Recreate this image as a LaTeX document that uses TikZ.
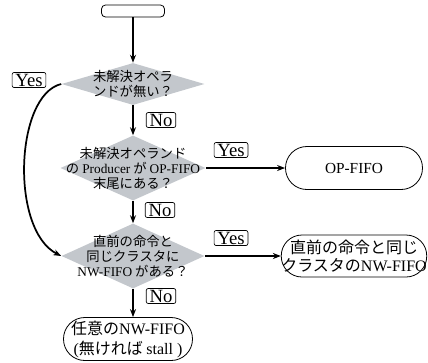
\documentclass[tikz,border=0pt]{standalone}
\usepackage{fontspec}
\setmainfont{Liberation Serif}
\newfontfamily\jp{Noto Sans CJK JP}
\usetikzlibrary{shapes.geometric,arrows.meta,positioning}
\definecolor{DiaGray}{HTML}{C3C7CC}
\tikzset{
  % terminal box (round ends)
  TB/.style={rectangle,draw,line width=0.6pt,align=center,inner sep=0pt,
             font=\jp\fontsize{12}{14}\selectfont},
  % decision diamond, text put in as a centre label
  DM/.style={diamond,fill=DiaGray,inner sep=0pt},
  DT/.style={align=center,inner sep=0pt,font=\jp\fontsize{10}{11.2}\selectfont},
  % Yes / No tags
  LB/.style={rectangle,rounded corners=1.5pt,draw,line width=0.5pt,
             inner xsep=2.5pt,inner ysep=1pt,font=\fontsize{14}{15}\selectfont},
  % arrow
  arr/.style={-{Stealth[length=6pt,width=4.5pt]},line width=1.3pt}
}
\begin{document}
\begin{tikzpicture}[x=0.75pt,y=-0.75pt]
  \useasboundingbox (0,0) rectangle (428,362);

  \node[TB,rounded corners=3pt,minimum width=47.25pt,minimum height=9pt] (start) at (133,11) {};
  \node[DM,minimum width=107.25pt,minimum height=31.5pt,
        label={[DT]center:未解決オペラ\\ンドが無い？}] (q1) at (133,84) {};
  \node[DM,minimum width=108.75pt,minimum height=48.75pt,
        label={[DT]center:未解決オペランド\\の {\rmfamily Producer} が {\rmfamily OP-FIFO}\\末尾にある？}] (q2) at (133,168) {};
  \node[DM,minimum width=107.25pt,minimum height=48.75pt,
        label={[DT]center:直前の命令と\\同じクラスタに\\{\rmfamily NW-FIFO} がある？}] (q3) at (133,256) {};
  \node[TB,rounded corners=16pt,minimum width=102.75pt,minimum height=32.25pt,
        font=\fontsize{11.5}{13}\selectfont] (opf) at (354,168) {OP-FIFO};
  \node[TB,rounded corners=15.5pt,minimum width=102.75pt,minimum height=31.5pt] (same) at (354,256)
        {直前の命令と同じ\\クラスタの{\rmfamily NW-FIFO}};
  \node[TB,rounded corners=16pt,minimum width=96.75pt,minimum height=32.25pt,
        font=\jp\fontsize{12}{15}\selectfont] (stop) at (128,339)
        {任意の{\rmfamily NW-FIFO}\\{\rmfamily (}無ければ {\rmfamily stall )}};

  \node[LB] (y1) at (29,80)  {Yes};
  \node[LB] (n1) at (161,120) {No};
  \node[LB] (y2) at (231,150) {Yes};
  \node[LB] (n2) at (160,210) {No};
  \node[LB] (y3) at (231,238) {Yes};
  \node[LB] (n3) at (161,296) {No};

  \draw[arr] (start) -- (q1);
  \draw[arr] (q1) -- (q2);
  \draw[arr] (q2) -- (q3);
  \draw[arr] (q3.south) -- (q3.south |- stop.north);
  \draw[arr] (q2.east) -- (opf.west);
  \draw[arr] (q3.east) -- (same.west);
  \draw[arr] (q1.west) .. controls (15,95) and (10,230) .. (q3.west);
\end{tikzpicture}
\end{document}
